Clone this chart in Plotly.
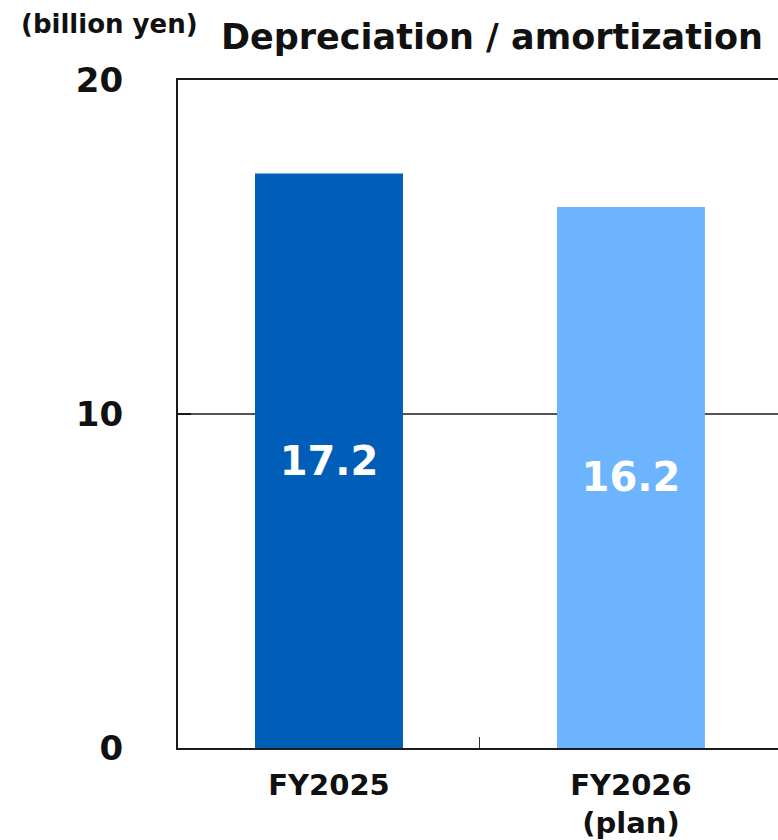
import plotly.graph_objects as go

categories = ["FY2025", "FY2026<br>(plan)"]
values = [17.2, 16.2]
labels = ["17.2", "16.2"]
colors = ["#005EB8", "#6DB4FF"]
y_ticks = [0, 10, 20]

PL, PT, PW, PH = 178, 80, 600, 668

fig = go.Figure()
fig.add_trace(go.Bar(
    x=categories, y=values, marker=dict(color=colors, line=dict(width=0)),
    width=0.49, text=labels, textposition="inside", insidetextanchor="middle",
    textfont=dict(family="DejaVu Sans", size=40, color="white", weight="bold"),
    textangle=0, hoverinfo="skip",
))

fig.update_layout(
    width=778, height=840, paper_bgcolor="white", plot_bgcolor="white",
    margin=dict(l=PL, r=0, t=PT, b=840 - PT - PH), showlegend=False,
    xaxis=dict(range=[-0.5, 1.487], showline=True, linecolor="#1a1a1a", linewidth=2,
               mirror=True, ticks="inside", ticklen=11, tickcolor="#333", tickwidth=1,
               tickson="boundaries", showgrid=False, ticklabelstandoff=10,
               tickfont=dict(family="DejaVu Sans", size=29, color="#111", weight="bold")),
    yaxis=dict(range=[0, 20], tickvals=y_ticks, ticktext=[str(v) for v in y_ticks],
               showline=True, linecolor="#1a1a1a", linewidth=2, showgrid=True,
               gridcolor="#555", gridwidth=2, zeroline=False,
               ticks="inside", ticklen=13, tickcolor="#1a1a1a", tickwidth=2,
               ticklabelstandoff=46,
               tickfont=dict(family="DejaVu Sans", size=34, color="#111", weight="bold")),
)
fig.add_annotation(text="Depreciation / amortization", xref="paper", yref="paper",
                   x=(219 - PL) / PW, y=1 + (PT - 37) / PH, xanchor="left", yanchor="middle",
                   showarrow=False,
                   font=dict(family="DejaVu Sans", size=35, color="#111", weight="bold"))
fig.add_annotation(text="(billion yen)", xref="paper", yref="paper",
                   x=(19 - PL) / PW, y=1 + (PT - 24) / PH, xanchor="left", yanchor="middle",
                   showarrow=False,
                   font=dict(family="DejaVu Sans", size=26, color="#111", weight="bold"))

fig.write_html(
    "out.html",
    config={"displayModeBar": False},
    post_script="document.body.style.margin='0';document.body.style.overflow='hidden';",
)
